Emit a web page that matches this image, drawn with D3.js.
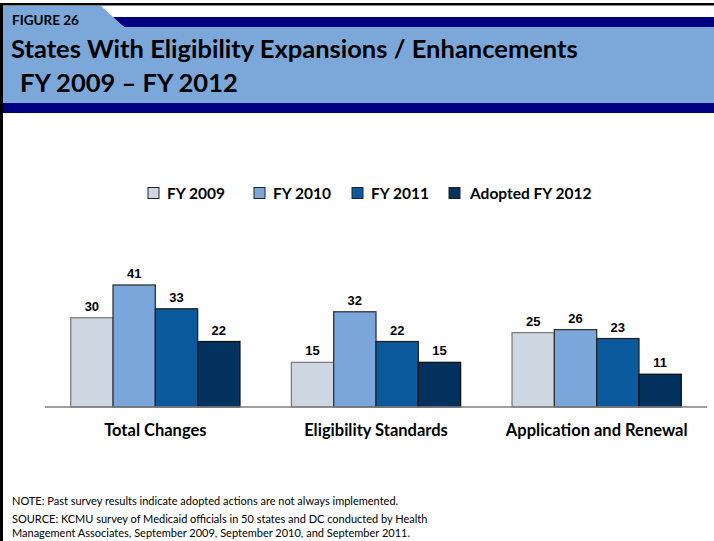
<!DOCTYPE html>
<html>
<head>
<meta charset="utf-8">
<script src="https://cdn.jsdelivr.net/npm/d3@7"></script>
<style>
  body { margin: 0; background: #fff; }
  svg { display: block; }
  .title { font-family: Lato, 'Open Sans', sans-serif; font-weight: bold; fill: #000; }
  .cat { font-family: Lato, sans-serif; font-weight: bold; font-size: 16.5px; }
  .legend text { font-family: Lato, sans-serif; font-weight: bold; font-size: 15.5px; }
  .value { font-family: 'Liberation Sans', Arial, sans-serif; font-weight: bold; font-size: 13px; }
  .note { font-family: Lato, sans-serif; font-size: 11px; }
</style>
</head>
<body>
<div id="container"></div>
<script>
const categories = ['Total Changes', 'Eligibility Standards', 'Application and Renewal'];
const seriesNames = ['FY 2009', 'FY 2010', 'FY 2011', 'Adopted FY 2012'];
const fy2009 = [30, 15, 25];
const fy2010 = [41, 32, 26];
const fy2011 = [33, 22, 23];
const fy2012 = [22, 15, 11];
const seriesColors = ['#cdd6e1', '#7aa6db', '#0b5a9d', '#04325f'];
const seriesStrokes = ['#7f7f7f', '#333333', '#222222', '#111111'];

let width = 714, height = 541;
let svg = d3.select('#container').append('svg')
  .attr('width', width)
  .attr('height', height);

main();

function main() {
  drawHeader();
  drawLegend();
  drawBars();
  drawNotes();
}

function drawHeader() {
  // light blue band with the tab at top left
  svg.append('rect')
    .attr('x', 3).attr('y', 27).attr('width', width - 3).attr('height', 77)
    .attr('fill', '#7ba7d9');
  svg.append('polygon')
    .attr('points', '112,17 714,17 714,27 124,27')
    .attr('fill', '#000080');
  svg.append('polygon')
    .attr('points', '3,6 101,6 124,27 3,27')
    .attr('fill', '#7ba7d9');
  svg.append('rect')
    .attr('x', 3).attr('y', 103).attr('width', width - 3).attr('height', 10)
    .attr('fill', '#000080');
  // frame
  svg.append('rect')
    .attr('x', 0).attr('y', 3).attr('width', width).attr('height', 2.5)
    .attr('fill', '#000');
  svg.append('rect')
    .attr('x', 0).attr('y', 3).attr('width', 3).attr('height', height)
    .attr('fill', '#000');

  svg.append('text').attr('class', 'title')
    .attr('x', 12).attr('y', 25)
    .style('font-size', '13.5px')
    .text('FIGURE 26');
  svg.append('text').attr('class', 'title')
    .attr('x', 11).attr('y', 58)
    .style('font-size', '25.5px')
    .text('States With Eligibility Expansions / Enhancements');
  svg.append('text').attr('class', 'title')
    .attr('x', 20).attr('y', 92)
    .style('font-size', '25.5px')
    .text('FY 2009 \u2013 FY 2012');
}

function drawLegend() {
  const legendX = [148, 254, 352, 449];
  let g = svg.append('g').attr('class', 'legend');
  let item = g.selectAll('g')
    .data(seriesNames)
    .enter()
    .append('g')
    .attr('transform', (d, i) => `translate(${legendX[i]},187.5)`);
  item.append('rect')
    .attr('width', 11).attr('height', 11)
    .attr('fill', (d, i) => seriesColors[i])
    .attr('stroke', '#222')
    .attr('stroke-width', 1);
  item.append('text')
    .attr('x', (d, i) => i === 3 ? 21 : 19)
    .attr('y', 11.5)
    .text((d) => d);
}

function drawBars() {
  const allSeries = [fy2009, fy2010, fy2011, fy2012];
  let x0 = d3.scaleBand()
    .domain(categories)
    .range([45, 707])
    .paddingInner(0.233)
    .paddingOuter(0.1165);
  let x1 = d3.scaleBand()
    .domain(d3.range(seriesNames.length))
    .range([0, x0.bandwidth()]);
  let y = d3.scaleLinear()
    .domain([0, 41])
    .range([407, 285]);

  let group = svg.append('g')
    .selectAll('g')
    .data(categories)
    .enter()
    .append('g')
    .attr('transform', (d) => `translate(${x0(d)},0)`);

  let cells = group.selectAll('g')
    .data((d, ci) => allSeries.map((s, si) => ({ si: si, v: s[ci] })))
    .enter()
    .append('g');

  cells.append('rect')
    .attr('x', (d) => x1(d.si))
    .attr('y', (d) => y(d.v))
    .attr('width', x1.bandwidth())
    .attr('height', (d) => y(0) - y(d.v))
    .attr('fill', (d) => seriesColors[d.si])
    .attr('stroke', (d) => seriesStrokes[d.si])
    .attr('stroke-width', 1.3);

  cells.append('text')
    .attr('class', 'value')
    .attr('x', (d) => x1(d.si) + x1.bandwidth() / 2)
    .attr('y', (d) => y(d.v) - 7)
    .attr('text-anchor', 'middle')
    .text((d) => d.v);

  // axis line with category labels
  let axis = svg.append('g')
    .attr('transform', 'translate(0,407)')
    .call(d3.axisBottom(x0).tickSize(0).tickPadding(17));
  axis.select('.domain')
    .attr('stroke', '#808080')
    .attr('stroke-width', 1.5)
    .attr('d', 'M45,0H707');
  axis.selectAll('text')
    .attr('class', 'cat')
    .attr('fill', '#000')
    .attr('dy', '0.71em');
}

function drawNotes() {
  const lines = [
    ['NOTE: Past survey results indicate adopted actions are not always implemented.', 505],
    ['SOURCE: KCMU survey of Medicaid officials in 50 states and DC conducted by Health', 523],
    ['Management Associates, September 2009, September 2010, and September 2011.', 537]
  ];
  svg.selectAll('.note')
    .data(lines)
    .enter()
    .append('text')
    .attr('class', 'note')
    .attr('x', 12)
    .attr('y', (d) => d[1])
    .text((d) => d[0]);
}
</script>
</body>
</html>
